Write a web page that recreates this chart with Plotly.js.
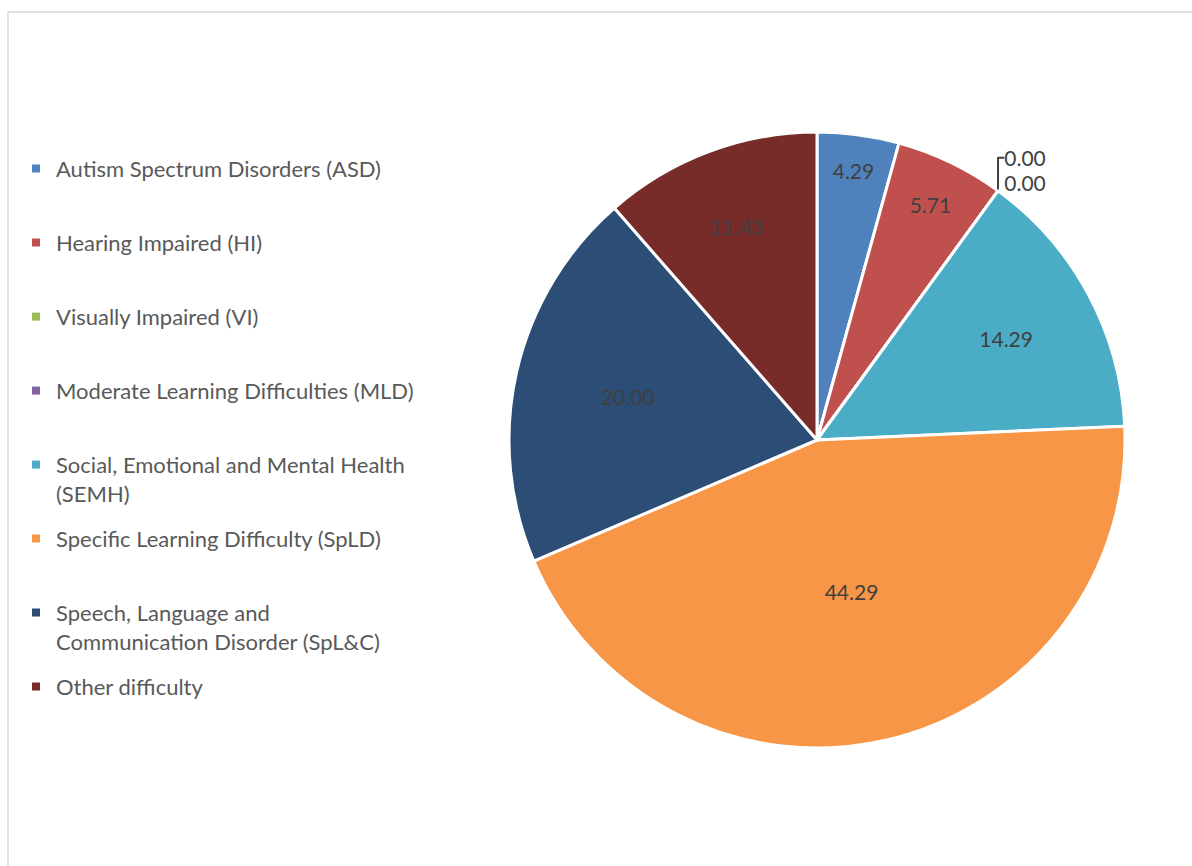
<!DOCTYPE html>
<html>
<head>
<meta charset="utf-8">
<script src="https://cdn.plot.ly/plotly-3.0.1.min.js"></script>
<style>html,body{margin:0;padding:0;background:#fff;}#chart{width:1192px;height:866px;}</style>
</head>
<body>
<div id="chart"></div>
<script>
// Categories (legend labels) in slice order
var categories = [
  "Autism Spectrum Disorders (ASD)",
  "Hearing Impaired (HI)",
  "Visually Impaired (VI)",
  "Moderate Learning Difficulties (MLD)",
  "Social, Emotional and Mental Health (SEMH)",
  "Specific Learning Difficulty (SpLD)",
  "Speech, Language and Communication Disorder (SpL&C)",
  "Other difficulty"
];
// Percent values for each slice
var values = [4.29, 5.71, 0.00, 0.00, 14.29, 44.29, 20.00, 11.43];
// Slice colours
var colors = ["#4F81BD", "#C0504D", "#9BBB59", "#8064A2", "#4BACC6", "#F79646", "#2C4D75", "#772C2A"];
// Legend label line breaks (as wrapped in the reference legend)
var legendText = [
  "Autism Spectrum Disorders (ASD)",
  "Hearing Impaired (HI)",
  "Visually Impaired (VI)",
  "Moderate Learning Difficulties (MLD)",
  "Social, Emotional and Mental Health<br>(SEMH)",
  "Specific Learning Difficulty (SpLD)",
  "Speech, Language and<br>Communication Disorder (SpL&C)",
  "Other difficulty"
];

var FONT = "Lato, 'Open Sans', sans-serif";

var pie = {
  type: "pie",
  labels: categories,
  values: values,
  sort: false,
  direction: "clockwise",
  rotation: 0,
  marker: {colors: colors, line: {color: "#ffffff", width: 3}},
  texttemplate: "%{value:.2f}",
  textposition: values.map(function(v){ return v > 0 ? "inside" : "outside"; }),
  insidetextorientation: "horizontal",
  textfont: {family: FONT, size: 21, color: "#404040"},
  outsidetextfont: {family: FONT, size: 21, color: "#404040"},
  showlegend: false,
  hoverinfo: "label+value",
  domain: {x: [509/1192, 1125/1192], y: [1 - 748/866, 1 - 132/866]}
};

// Legend entries (one per category), each its own group for even spacing
var legendTraces = categories.map(function(c, i){
  var t = legendText[i];
  if (t.indexOf("<br>") < 0) t = t + "<br> ";
  return {
    type: "scatter", mode: "markers",
    x: [null], y: [null],
    name: t,
    legendgroup: "g" + i,
    marker: {symbol: "square", size: 8, color: colors[i]},
    hoverinfo: "skip"
  };
});

var layout = {
  width: 1192, height: 866,
  margin: {l: 0, r: 0, t: 0, b: 0},
  paper_bgcolor: "#ffffff",
  plot_bgcolor: "#ffffff",
  xaxis: {visible: false},
  yaxis: {visible: false},
  showlegend: true,
  legend: {
    x: 16/1192, xanchor: "left",
    y: 1 - 147.8/866, yanchor: "top",
    traceorder: "grouped",
    tracegroupgap: 13.8,
    valign: "top",
    font: {family: FONT, size: 22, color: "#595959"},
    bgcolor: "rgba(0,0,0,0)"
  },
  shapes: [{
    type: "rect", xref: "paper", yref: "paper",
    x0: 8/1192, x1: 1.01, y0: -0.01, y1: 1 - 12/866,
    line: {color: "#D9D9D9", width: 1.5}, fillcolor: "rgba(0,0,0,0)", layer: "below"
  }]
};

Plotly.newPlot("chart", legendTraces.concat([pie]), layout, {displayModeBar: false, staticPlot: true});
</script>
</body>
</html>
